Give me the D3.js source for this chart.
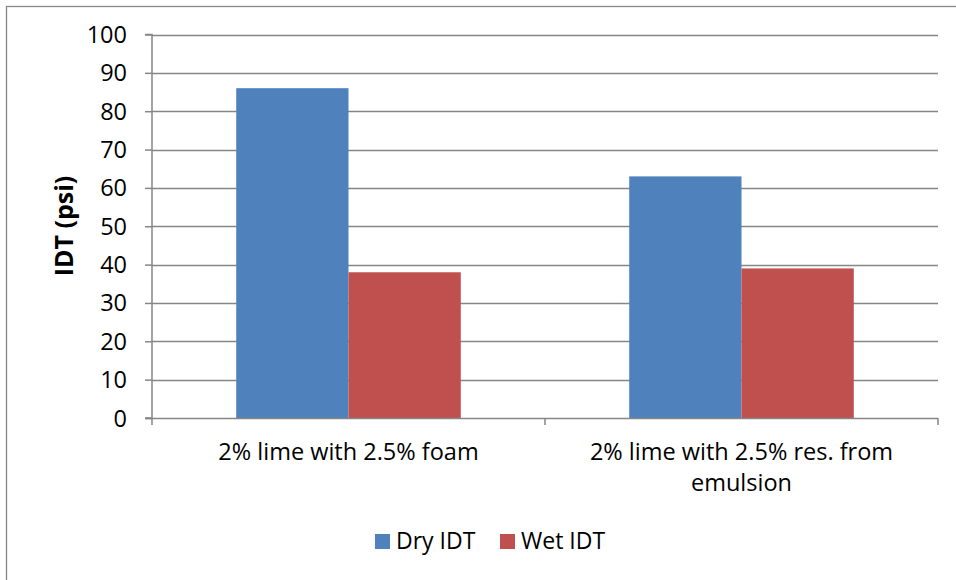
<!DOCTYPE html>
<html><head><meta charset="utf-8">
<script src="https://cdn.jsdelivr.net/npm/d3@7"></script>
<style>body{margin:0;background:#fff}svg{display:block}text{font-family:"Open Sans",sans-serif;fill:#000}</style>
</head><body><svg id="c" width="956" height="580"></svg>
<script>
const categories = [["2% lime with 2.5% foam"], ["2% lime with 2.5% res. from", "emulsion"]];
const seriesNames = ["Dry IDT", "Wet IDT"];
const dryValues = [86, 63];
const wetValues = [38, 39];
const yTicks = [0,10,20,30,40,50,60,70,80,90,100];
const colors = ["#4F81BD", "#C0504D"];

const svg = d3.select("#c");
const L = 152, R = 938, T = 34.5, B = 418;
svg.append("rect").attr("x",6.5).attr("y",6.5).attr("width",1000).attr("height",1000).attr("fill","none").attr("stroke","#868686").attr("stroke-width",1.3);

const catKeys = categories.map((d,i)=>i);
const x0 = d3.scaleBand().domain(catKeys).range([L,R]).padding(0);
const bw = x0.bandwidth();
const x1 = d3.scaleBand().domain(seriesNames).range([bw*0.75/3.5, bw*2.75/3.5]).padding(0);
const y = d3.scaleLinear().domain([0,100]).range([B,T]);

// gridlines
svg.append("g").selectAll("line").data(yTicks.filter(v=>v>0)).join("line")
  .attr("x1",L).attr("x2",R).attr("y1",d=>Math.round(y(d))+0.5).attr("y2",d=>Math.round(y(d))+0.5)
  .attr("stroke","#868686").attr("stroke-width",1.5);

// bars
const groups = svg.append("g").selectAll("g").data(catKeys).join("g")
  .attr("transform",d=>`translate(${x0(d)},0)`);
groups.selectAll("rect").data(i=>[{s:seriesNames[0],v:dryValues[i],c:colors[0]},{s:seriesNames[1],v:wetValues[i],c:colors[1]}]).join("rect")
  .attr("x",d=>x1(d.s)).attr("width",x1.bandwidth())
  .attr("y",d=>y(d.v)).attr("height",d=>y(0)-y(d.v)).attr("fill",d=>d.c);

// y axis
const yAxis = d3.axisLeft(y).tickValues(yTicks).tickSize(7).tickPadding(18);
const gy = svg.append("g").attr("transform",`translate(${L},0)`).call(yAxis);
gy.select(".domain").attr("stroke","#868686").attr("stroke-width",1.5).attr("d",`M-7,${T}H0V${B}H-7`);
gy.selectAll(".tick line").attr("stroke","#868686").attr("stroke-width",1.5);
gy.selectAll(".tick text").style("font-family","'Open Sans',sans-serif").style("font-size","23.5px").attr("fill","#000").attr("dy","0.34em");

// x axis
svg.append("line").attr("x1",L-7).attr("x2",R).attr("y1",B+0.5).attr("y2",B+0.5).attr("stroke","#868686").attr("stroke-width",1.5);
const xt = [L, L+bw, R];
svg.append("g").selectAll("line").data(xt).join("line")
  .attr("x1",d=>d).attr("x2",d=>d).attr("y1",B).attr("y2",B+7).attr("stroke","#868686").attr("stroke-width",1.5);
const xl = svg.append("g").selectAll("text").data(catKeys).join("text")
  .attr("text-anchor","middle").attr("x",d=>x0(d)+bw/2).attr("y",460).style("font-size","23.5px");
xl.selectAll("tspan").data(d=>categories[d]).join("tspan")
  .attr("x",function(){return +this.parentNode.getAttribute("x");}).attr("dy",(d,i)=>i?31:0).text(d=>d);

// y title
svg.append("text").attr("transform","translate(73,226) rotate(-90)").attr("text-anchor","middle")
  .style("font-size","25px").style("font-weight","bold").text("IDT (psi)");

// legend
const leg = svg.append("g");
const lx = [375, 500];
seriesNames.forEach((s,i)=>{
  leg.append("rect").attr("x",lx[i]).attr("y",534).attr("width",15).attr("height",15).attr("fill",colors[i]);
  leg.append("text").attr("x",lx[i]+21).attr("y",549).style("font-size","23px").text(s);
});
</script></body></html>
